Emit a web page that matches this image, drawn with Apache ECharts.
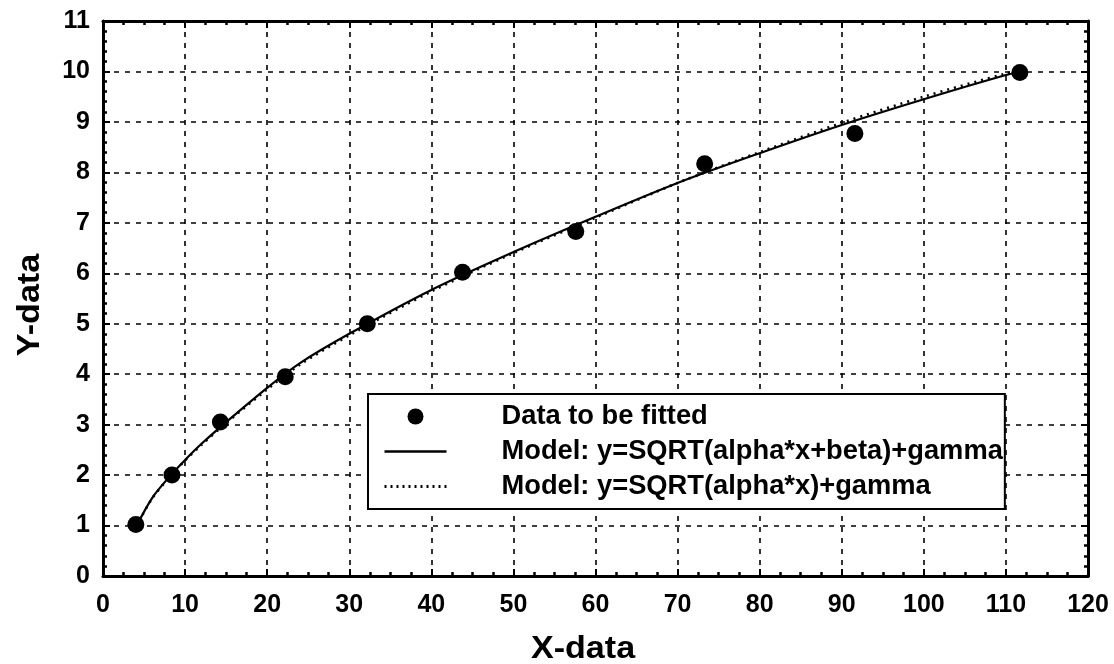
<!DOCTYPE html>
<html>
<head>
<meta charset="utf-8">
<title>Square-root model fit</title>
<script src="https://cdn.jsdelivr.net/npm/echarts@6/dist/echarts.min.js"></script>
<style>
  html, body { margin: 0; padding: 0; background: #fff; }
  #chart { width: 1114px; height: 664px; }
</style>
</head>
<body>
<div id="chart"></div>
<script>
// Measured data
const dataX = [4, 8.4, 14.3, 22.2, 32.2, 43.8, 57.6, 73.3, 91.6, 111.7];
const dataY = [1.02, 2.0, 3.05, 3.95, 5.0, 6.02, 6.83, 8.17, 8.77, 9.98];

// Fitted curve: y = SQRT(alpha*x + beta) + gamma
const fitAX = [4, 6, 8, 10, 12, 15, 20, 24, 30, 40, 50, 60, 70, 80, 90, 100, 110, 111.5];
const fitAY = [0.97, 1.55, 1.95, 2.30, 2.62, 3.05, 3.73, 4.22, 4.80, 5.67, 6.42, 7.12, 7.79, 8.38, 8.94, 9.45, 9.93, 9.98];

// Fitted curve: y = SQRT(alpha*x) + gamma
const fitBX = [4, 6, 8, 10, 12, 15, 20, 24, 30, 40, 50, 60, 70, 80, 90, 100, 110, 111.5];
const fitBY = [0.97, 1.54, 1.94, 2.29, 2.60, 3.03, 3.70, 4.19, 4.77, 5.64, 6.40, 7.10, 7.79, 8.40, 8.98, 9.50, 9.96, 10.01];

const xTicks = { min: 0, max: 120, interval: 10 };
const yTicks = { min: 0, max: 11, interval: 1 };

const seriesNames = [
  'Data to be fitted',
  'Model: y=SQRT(alpha*x+beta)+gamma',
  'Model: y=SQRT(alpha*x)+gamma'
];

const FONT = '"Liberation Sans", Arial, Helvetica, sans-serif';

function zip(xs, ys) { return xs.map((x, i) => [x, ys[i]]); }

const frameLine = { show: true, onZero: false, lineStyle: { color: '#000', width: 3 } };
const majorTick = { show: true, inside: true, length: 7, lineStyle: { color: '#000', width: 2 } };
const gridDash = { show: true, lineStyle: { color: '#000', width: 1.6, type: [5, 6] } };

function minor(n) {
  return { show: true, splitNumber: n, length: 4, lineStyle: { color: '#000', width: 2.5 } };
}

const labelFont = { color: '#000', fontFamily: FONT, fontWeight: 'bold', fontSize: 25 };

const chart = echarts.init(document.getElementById('chart'), null, { renderer: 'canvas' });

chart.setOption({
  animation: false,
  backgroundColor: '#fff',
  grid: { left: 103, right: 26, top: 21, bottom: 88, containLabel: false },
  xAxis: [
    {
      type: 'value', position: 'bottom', ...xTicks,
      axisLine: frameLine, axisTick: majorTick, minorTick: minor(4),
      splitLine: gridDash,
      axisLabel: { margin: 17, ...labelFont }
    },
    {
      type: 'value', position: 'top', ...xTicks,
      axisLine: frameLine, axisTick: majorTick, minorTick: minor(4),
      splitLine: { show: false }, axisLabel: { show: false }
    }
  ],
  yAxis: [
    {
      type: 'value', position: 'left', ...yTicks,
      axisLine: frameLine, axisTick: majorTick, minorTick: minor(5),
      splitLine: gridDash,
      axisLabel: { margin: 13, ...labelFont }
    },
    {
      type: 'value', position: 'right', ...yTicks,
      axisLine: frameLine, axisTick: majorTick, minorTick: minor(5),
      splitLine: { show: false }, axisLabel: { show: false }
    }
  ],
  legend: {
    orient: 'vertical',
    left: 368, top: 394,
    padding: [9, 2, 9, 15],
    itemGap: 8,
    itemWidth: 62, itemHeight: 16,
    borderColor: '#000', borderWidth: 2,
    backgroundColor: '#fff',
    data: [
      { name: seriesNames[0] },
      // line entries show only their stroke, no marker
      { name: seriesNames[1], itemStyle: { opacity: 0 },
        lineStyle: { color: '#000', width: 2.5, type: 'solid' } },
      { name: seriesNames[2], itemStyle: { opacity: 0 },
        lineStyle: { color: '#000', width: 3, type: [2, 4] } }
    ],
    textStyle: {
      color: '#000', fontFamily: FONT, fontWeight: 'bold', fontSize: 27.3,
      padding: [0, 0, 0, 50]
    }
  },
  graphic: [
    {
      type: 'text', x: 583, y: 634, scaleX: 1.1,
      style: { text: 'X-data', font: 'bold 31px ' + FONT, fill: '#000', align: 'center', verticalAlign: 'top' }
    },
    {
      type: 'text', x: 15, y: 305, rotation: Math.PI / 2, scaleX: 1.1,
      style: { text: 'Y-data', font: 'bold 31px ' + FONT, fill: '#000', align: 'center', verticalAlign: 'top' }
    }
  ],
  series: [
    {
      name: seriesNames[0], type: 'scatter',
      data: zip(dataX, dataY),
      symbol: 'circle', symbolSize: 17,
      itemStyle: { color: '#000', opacity: 1 }, z: 5
    },
    {
      name: seriesNames[1], type: 'line',
      data: zip(fitAX, fitAY),
      smooth: 0.3, showSymbol: false, symbol: 'none',
      lineStyle: { color: '#000', width: 2.2, type: 'solid' },
      itemStyle: { color: '#000' }, z: 3
    },
    {
      name: seriesNames[2], type: 'line',
      data: zip(fitBX, fitBY),
      smooth: 0.3, showSymbol: false, symbol: 'none',
      lineStyle: { color: '#000', width: 2.6, type: [2, 5] },
      itemStyle: { color: '#000' }, z: 4
    }
  ]
});
</script>
</body>
</html>
